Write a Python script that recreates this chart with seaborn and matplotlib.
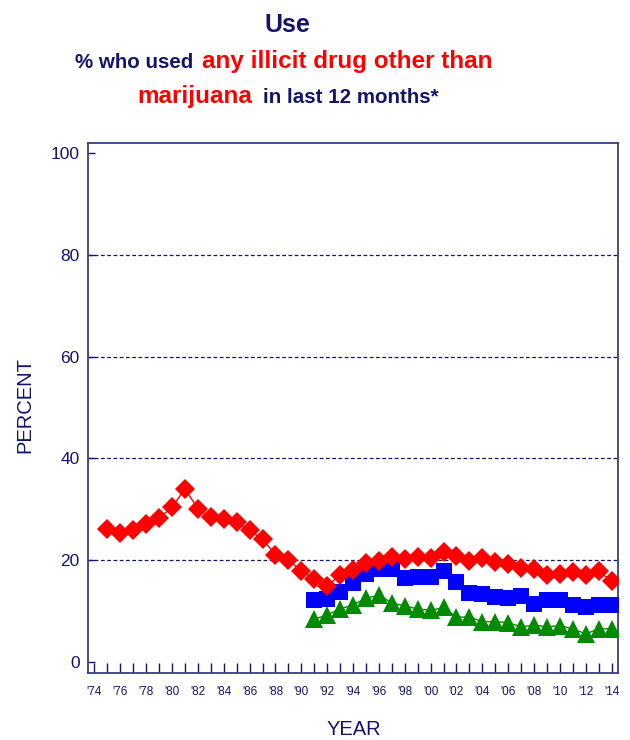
import numpy as np
import pandas as pd
import matplotlib
matplotlib.use('Agg')
import matplotlib.pyplot as plt
import seaborn as sns

# Data
years_12 = list(range(1975, 2015))
grade12 = [26.2, 25.4, 26.0, 27.1, 28.2, 30.4, 34.0, 30.1, 28.4, 28.0,
           27.4, 25.9, 24.1, 21.1, 20.0, 17.9, 16.2, 14.9, 17.1, 18.0,
           19.4, 19.8, 20.7, 20.2, 20.7, 20.4, 21.6, 20.9, 19.8, 20.5,
           19.7, 19.2, 18.5, 18.3, 17.0, 17.3, 17.6, 17.0, 17.8, 15.9]

years_8_10 = list(range(1991, 2015))
grade10 = [12.2, 12.3, 13.7, 15.4, 17.2, 18.2, 18.2, 16.5, 16.6, 16.6,
           17.8, 15.6, 13.6, 13.3, 12.7, 12.6, 12.9, 11.3, 12.1, 12.1,
           11.2, 10.8, 11.2, 11.2]
grade8 = [8.4, 9.2, 10.4, 11.2, 12.5, 13.1, 11.6, 11.0, 10.4, 10.1,
          10.7, 8.8, 8.8, 7.9, 7.9, 7.7, 6.9, 7.2, 6.9, 7.1,
          6.5, 5.5, 6.5, 6.5]

x_ticks = list(range(1974, 2015, 2))
x_tick_labels = ["'%02d" % (y % 100) for y in x_ticks]
y_ticks = [0, 20, 40, 60, 80, 100]
grid_levels = [20, 40, 60, 80]

NAVY = '#14146e'
SPINE = '#3c3c8a'

sns.set_style('ticks')
plt.rcParams['font.family'] = ['Liberation Sans', 'DejaVu Sans']

fig = plt.figure(figsize=(6.3, 7.4), dpi=100)
ax = fig.add_axes([0.1397, 0.0905, 0.8413, 0.7163])

df8 = pd.DataFrame({'year': years_8_10, 'pct': grade8})
df10 = pd.DataFrame({'year': years_8_10, 'pct': grade10})
df12 = pd.DataFrame({'year': years_12, 'pct': grade12})

for y in grid_levels:
    ax.axhline(y, color=NAVY, lw=0.9, ls=(0, (3, 2)), zorder=1)

sns.lineplot(data=df8, x='year', y='pct', ax=ax, color='#008a00', lw=1,
             marker='^', markersize=12.5, markeredgewidth=0, zorder=3)
sns.lineplot(data=df10, x='year', y='pct', ax=ax, color='#0000ff', lw=1,
             marker='s', markersize=12, markeredgewidth=0, zorder=4)
sns.lineplot(data=df12, x='year', y='pct', ax=ax, color='#ff0000', lw=1,
             marker='D', markersize=10.5, markeredgewidth=0, zorder=5)

ax.set_xlim(1973.5, 2014.5)
ax.set_ylim(-2.2, 102)
ax.set_xticks(x_ticks, labels=x_tick_labels)
ax.set_xticks(range(1975, 2015, 2), minor=True)
ax.set_yticks(y_ticks)
ax.tick_params(axis='x', which='both', direction='in', length=7, width=1,
               color=NAVY, labelsize=8.5, labelcolor=NAVY, pad=9)
ax.tick_params(axis='y', direction='in', length=5, width=1, color=NAVY,
               labelsize=12.5, labelcolor=NAVY, pad=6)
for s in ax.spines.values():
    s.set_color(SPINE)
    s.set_linewidth(1.3)

ax.set_xlabel('')
ax.set_ylabel('')
fig.text(354 / 630, 1 - 735 / 740, 'YEAR', ha='center', va='baseline',
         fontsize=14.5, color=NAVY)
fig.text(25 / 630, 1 - 405 / 740, 'PERCENT', ha='center', va='center',
         rotation=90, fontsize=14.5, color=NAVY)

# Title built from coloured pieces, each line centred
title_font = ['Liberation Sans', 'DejaVu Sans']
W, H = fig.get_size_inches() * fig.dpi


def title_line(parts, baseline_px, center_px, gap_px=9):
    texts = [fig.text(0, 1 - baseline_px / H, s, color=c, fontsize=fs,
                      fontweight='bold', family=title_font, va='baseline')
             for s, c, fs in parts]
    fig.canvas.draw()
    r = fig.canvas.get_renderer()
    widths = [t.get_window_extent(r).width for t in texts]
    total = sum(widths) + gap_px * (len(texts) - 1)
    x = center_px - total / 2
    for t, w in zip(texts, widths):
        t.set_x(x / W)
        x += w + gap_px


title_line([('Use', NAVY, 18)], 32, 287)
title_line([('% who used', NAVY, 14.8), ('any illicit drug other than', '#ff0000', 17.5)], 68, 284)
title_line([('marijuana', '#ff0000', 17.5), ('in last 12 months*', NAVY, 14.8)], 103, 288, gap_px=11)

fig.savefig('out.png', dpi=100)
